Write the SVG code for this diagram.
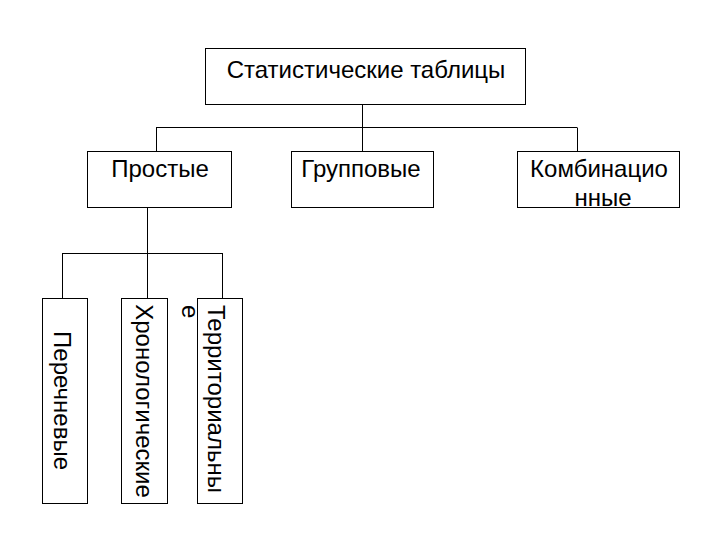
<svg xmlns="http://www.w3.org/2000/svg" width="720" height="540" viewBox="0 0 720 540">
<style>
.box{fill:#fff;stroke:#000;stroke-width:1}
.lbl{font-family:"Liberation Sans",Arial,sans-serif;font-size:24px;fill:#000}
.mid{text-anchor:middle}
#connectors line{stroke:#000;stroke-width:1}
</style>
<rect width="720" height="540" fill="#fff"/>
<g id="connectors">
<line x1="362.5" y1="105" x2="362.5" y2="127.5"/>
<line x1="156" y1="127.5" x2="577" y2="127.5"/>
<line x1="156.5" y1="127.5" x2="156.5" y2="151"/>
<line x1="362.5" y1="127.5" x2="362.5" y2="151"/>
<line x1="577.5" y1="127.5" x2="577.5" y2="151"/>
<line x1="147.5" y1="207" x2="147.5" y2="253.5"/>
<line x1="62" y1="253.5" x2="223" y2="253.5"/>
<line x1="62.5" y1="253.5" x2="62.5" y2="298"/>
<line x1="147.5" y1="253.5" x2="147.5" y2="298"/>
<line x1="222.5" y1="253.5" x2="222.5" y2="298"/>
</g>
<g id="root">
<rect class="box" x="205.5" y="48.5" width="320" height="56"/>
<text class="lbl mid" x="366" y="78">Статистические таблицы</text>
</g>
<g id="prostye">
<rect class="box" x="87.5" y="151.5" width="144" height="56"/>
<text class="lbl mid" x="160" y="177">Простые</text>
</g>
<g id="gruppovye">
<rect class="box" x="291.5" y="151.5" width="142" height="56"/>
<text class="lbl mid" x="361" y="177">Групповые</text>
</g>
<g id="kombinacionnye">
<rect class="box" x="517.5" y="151.5" width="162" height="56"/>
<text class="lbl mid" x="599" y="177">Комбинацио</text>
<text class="lbl mid" x="603" y="206">нные</text>
</g>
<g id="perechnevye">
<rect class="box" x="42.5" y="298.5" width="45" height="205"/>
<text class="lbl mid" transform="translate(54,400.5) rotate(90)">Перечневые</text>
</g>
<g id="hronologicheskie">
<rect class="box" x="121.5" y="298.5" width="46" height="205"/>
<text class="lbl mid" transform="translate(136,401) rotate(90)">Хронологические</text>
</g>
<g id="territorialnye">
<rect class="box" x="197.5" y="298.5" width="45" height="205"/>
<text class="lbl" transform="translate(208,305) rotate(90)">Территориальны</text>
<text class="lbl" transform="translate(182,305) rotate(90)">е</text>
</g>
</svg>
